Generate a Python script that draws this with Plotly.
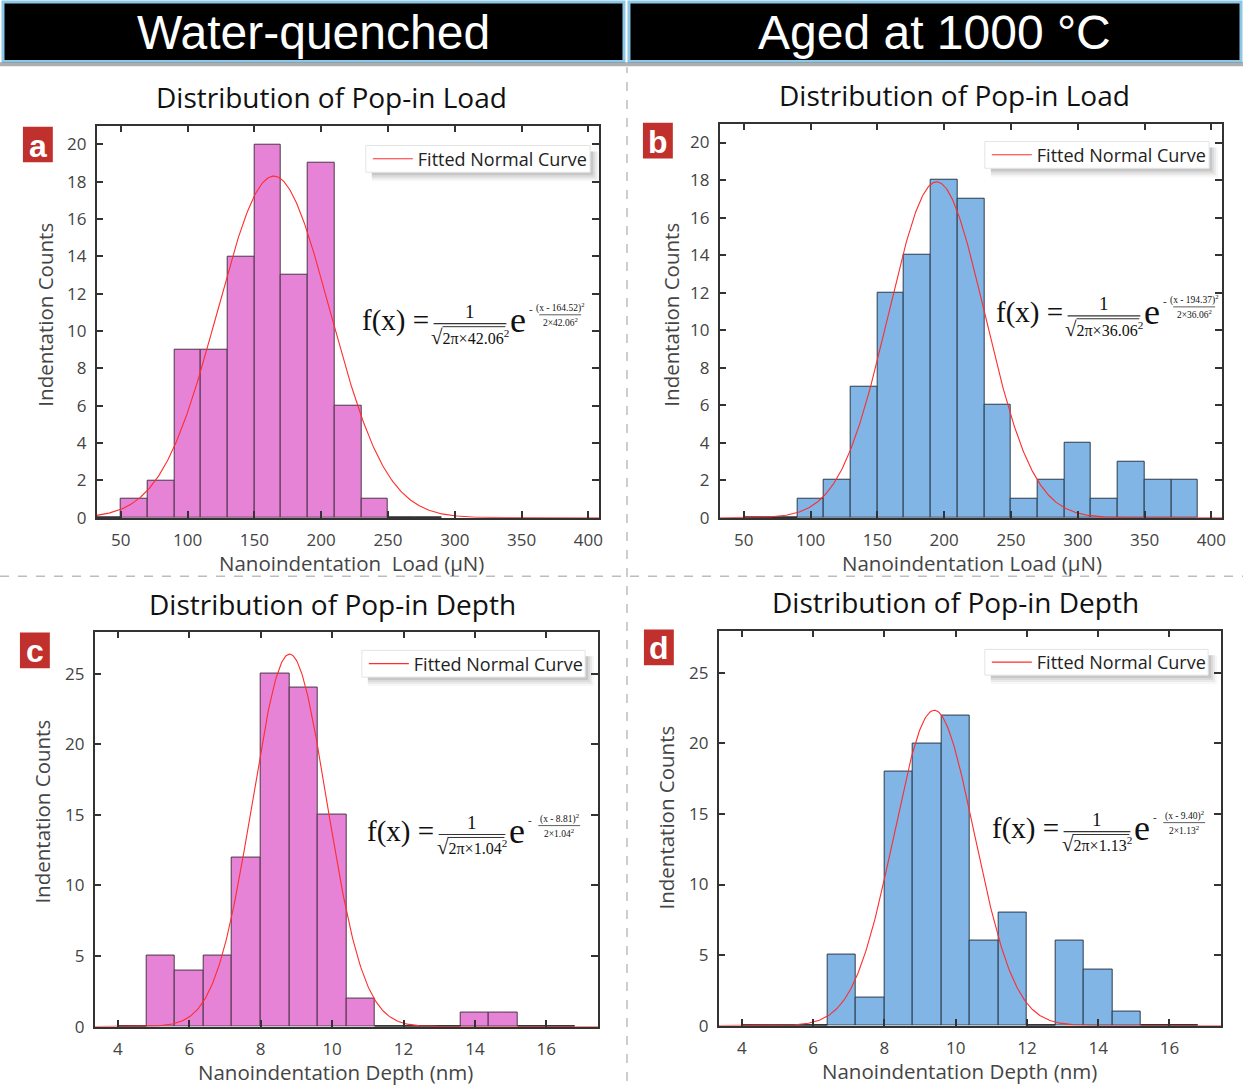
import numpy as np
import plotly.graph_objects as go

W, H = 1247, 1092

# ---------------- data ----------------
load_bin_width = 20
load_bin_start_a = 30
counts_a = [0, 1, 2, 9, 9, 14, 20, 13, 19, 6, 1, 0, 0]               # 30..290 µN
load_bin_start_b = 50
counts_b = [0, 0, 1, 2, 7, 12, 14, 18, 17, 6, 1, 2, 4, 1, 3, 2, 2]   # 50..390 µN

depth_bin_width = 0.8
depth_bin_start = 4.0
counts_c = [0, 5, 4, 5, 12, 25, 24, 15, 2, 0, 0, 0, 1, 1, 0, 0]      # 4.0..16.8 nm
counts_d = [0, 0, 0, 5, 2, 18, 20, 22, 6, 8, 0, 6, 4, 1, 0, 0]       # 4.0..16.8 nm

fit_mu = [164.52, 194.37, 8.81, 9.40]
fit_sigma = [42.06, 36.06, 1.04, 1.13]
fit_peak = [18.3, 17.9, 26.4, 22.35]   # curve heights

load_ticks = [50, 100, 150, 200, 250, 300, 350, 400]
depth_ticks = [4, 6, 8, 10, 12, 14, 16]
load_count_ticks = list(range(0, 21, 2))
depth_count_ticks = [0, 5, 10, 15, 20, 25]

headers = ["Water-quenched", "Aged at 1000 °C"]
titles = ["Distribution of Pop-in Load", "Distribution of Pop-in Load",
          "Distribution of Pop-in Depth", "Distribution of Pop-in Depth"]
xtitles = ["Nanoindentation\u00a0 Load (µN)", "Nanoindentation Load (µN)",
           "Nanoindentation Depth (nm)", "Nanoindentation Depth (nm)"]
ytitle = "Indentation Counts"
panel_letters = ["a", "b", "c", "d"]
legend_text = "Fitted Normal Curve"

PINK = "rgb(230,131,214)"
BLUE = "rgb(128,181,230)"
RED = "rgb(255,45,45)"
SANS = "Open Sans"
SERIF = "Liberation Serif"

def X(px):
    return px / W

def Y(py):
    return 1 - py / H

# panel geometry in pixels: (left, right, top, bottom)
boxes = [(97, 601, 127, 523), (722, 1226, 125, 523),
         (95, 600, 638, 1037), (721, 1225, 637, 1036)]
xranges = [[32, 408], [32, 408], [3.35, 17.45], [3.35, 17.45]]
yranges = [[0, 21], [0, 21], [0, 28], [0, 28]]

panels = [
    (counts_a, load_bin_start_a, load_bin_width, PINK, "#4a3548"),
    (counts_b, load_bin_start_b, load_bin_width, BLUE, "#2c3a4a"),
    (counts_c, depth_bin_start, depth_bin_width, PINK, "#4a3548"),
    (counts_d, depth_bin_start, depth_bin_width, BLUE, "#2c3a4a"),
]

fig = go.Figure()
shapes = []
annotations = []

for i, (counts, start, bw, fill, edge) in enumerate(panels):
    ax = "" if i == 0 else str(i + 1)
    xref, yref = "x" + ax, "y" + ax
    counts = np.array(counts, dtype=float)
    edges = np.round(start + bw * np.arange(len(counts) + 1), 4)
    centers = (edges[:-1] + edges[1:]) / 2
    fig.add_trace(go.Bar(x=centers, y=counts, width=bw,
                         marker=dict(color=fill, line=dict(color=edge, width=1)),
                         xaxis=xref, yaxis=yref, showlegend=False, hoverinfo="x+y"))
    # zero-count bins drawn as baseline segments
    zx, zy = [], []
    for k, c in enumerate(counts):
        if c == 0:
            zx += [edges[k], edges[k + 1], None]
            zy += [0, 0, None]
    fig.add_trace(go.Scatter(x=zx, y=zy, mode="lines", line=dict(color="#222", width=2.5),
                             xaxis=xref, yaxis=yref, showlegend=False, hoverinfo="skip"))
    # fitted normal curve
    xs = np.linspace(xranges[i][0], xranges[i][1], 500)
    ys = fit_peak[i] * np.exp(-(xs - fit_mu[i]) ** 2 / (2 * fit_sigma[i] ** 2))
    lg = "legend" if i == 0 else "legend" + str(i + 1)
    fig.add_trace(go.Scatter(x=xs, y=ys, mode="lines", line=dict(color=RED, width=1.1),
                             name=legend_text, legend=lg,
                             xaxis=xref, yaxis=yref, showlegend=True))

# ---------------- axes ----------------
axis_common = dict(showline=True, linecolor="#333", linewidth=1.5, mirror="ticks",
                   ticks="inside", ticklen=7, tickwidth=1.5, tickcolor="#333",
                   showgrid=False, zeroline=False,
                   tickfont=dict(family=SANS, size=17, color="#444"))
layout_axes = {}
for i, (l, r, t, b) in enumerate(boxes):
    ax = "" if i == 0 else str(i + 1)
    xt = load_ticks if i < 2 else depth_ticks
    yt = load_count_ticks if i < 2 else depth_count_ticks
    layout_axes["xaxis" + ax] = dict(axis_common, domain=[X(l), X(r)], range=xranges[i],
                                      tickvals=xt, anchor="y" + ax, ticklabelstandoff=6)
    layout_axes["yaxis" + ax] = dict(axis_common, domain=[Y(b), Y(t)], range=yranges[i],
                                      tickvals=yt, anchor="x" + ax, ticklabelstandoff=5)

# ---------------- headers & separators ----------------
for (x0, x1), txt in zip([(3, 626), (631, 1245)], headers):
    shapes.append(dict(type="rect", xref="paper", yref="paper", x0=X(x0), x1=X(x1),
                       y0=Y(62), y1=Y(2), fillcolor="black",
                       line=dict(color="rgb(140,200,230)", width=3)))
    annotations.append(dict(xref="paper", yref="paper", x=X((x0 + x1) / 2), y=Y(33),
                            text=txt, showarrow=False, xanchor="center", yanchor="middle",
                            font=dict(family="Liberation Sans", size=48, color="white")))
shapes.append(dict(type="rect", xref="paper", yref="paper", x0=0, x1=1, y0=Y(67), y1=Y(63),
                   fillcolor="rgba(120,120,120,0.6)", line=dict(width=0)))
shapes.append(dict(type="line", xref="paper", yref="paper", x0=X(629), x1=X(629), y0=0, y1=Y(68),
                   line=dict(color="#bdbdbd", width=1.5, dash="dash")))
shapes.append(dict(type="line", xref="paper", yref="paper", x0=0, x1=1, y0=Y(582), y1=Y(582),
                   line=dict(color="#bdbdbd", width=1.5, dash="dash")))

# ---------------- titles, axis titles ----------------
title_pos = [(333, 98), (958, 96), (334, 610), (959, 608)]
xt_pos = [(353, 569), (975, 569), (337, 1083), (963, 1082)]
yt_pos = [(45, 318), (673, 318), (42, 820), (668, 826)]
for i in range(4):
    annotations.append(dict(xref="paper", yref="paper", x=X(title_pos[i][0]), y=Y(title_pos[i][1]),
                            text=titles[i], showarrow=False, xanchor="center", yanchor="middle",
                            font=dict(family=SANS, size=28, color="#111")))
    annotations.append(dict(xref="paper", yref="paper", x=X(xt_pos[i][0]), y=Y(xt_pos[i][1]),
                            text=xtitles[i], showarrow=False, xanchor="center", yanchor="middle",
                            font=dict(family=SANS, size=20.5, color="#444")))
    annotations.append(dict(xref="paper", yref="paper", x=X(yt_pos[i][0]), y=Y(yt_pos[i][1]),
                            text=ytitle, showarrow=False, xanchor="center", yanchor="middle",
                            textangle=-90, font=dict(family=SANS, size=20.5, color="#444")))

# ---------------- panel letters ----------------
letter_pos = [(38, 146), (660, 142), (35, 657), (661, 654)]
for (cx, cy), lt in zip(letter_pos, panel_letters):
    shapes.append(dict(type="rect", xref="paper", yref="paper", x0=X(cx - 15), x1=X(cx + 15),
                       y0=Y(cy + 18), y1=Y(cy - 18), fillcolor="rgb(192,48,44)", line=dict(width=0)))
    annotations.append(dict(xref="paper", yref="paper", x=X(cx), y=Y(cy + 1), text="<b>" + lt + "</b>",
                            showarrow=False, xanchor="center", yanchor="middle",
                            font=dict(family="Liberation Sans", size=32, color="white")))

# ---------------- legends: white box + shadow as shapes, plotly legend on top ----------------
legend_boxes = [(367, 592, 147, 174), (988, 1213, 143, 170), (363, 587, 657, 684), (988, 1212, 656, 682)]
legends = {}
for i, (bx0, bx1, by0, by1) in enumerate(legend_boxes):
    for k, a in enumerate([0.10, 0.08, 0.06, 0.04]):
        shapes.append(dict(type="rect", xref="paper", yref="paper", layer="above",
                           x0=X(bx0 + 6), x1=X(bx1 + 3 + 2 * k), y0=Y(by1 + 3 + 2 * k), y1=Y(by0 + 6),
                           fillcolor="rgba(40,40,40,%.2f)" % a, line=dict(width=0)))
    shapes.append(dict(type="rect", xref="paper", yref="paper", layer="above",
                       x0=X(bx0), x1=X(bx1), y0=Y(by1), y1=Y(by0),
                       fillcolor="white", line=dict(color="#e4e4e4", width=1)))
    key = "legend" if i == 0 else "legend" + str(i + 1)
    legends[key] = dict(x=X(bx0 + 2), y=Y((by0 + by1) / 2 - 18.5), xanchor="left", yanchor="top",
                        xref="paper", yref="paper", bgcolor="rgba(0,0,0,0)", borderwidth=0,
                        font=dict(family=SANS, size=18, color="#222"), itemwidth=40,
                        tracegroupgap=0)

# ---------------- formula annotations ----------------
formula_pos = [(361, 324), (997, 316), (366, 840), (993, 837)]

def add_formula(x0, yc, mu, sigma):
    def txt(dx, dy, s, size, anchor="center", fam=SERIF):
        annotations.append(dict(xref="paper", yref="paper", x=X(x0 + dx), y=Y(yc + dy), text=s,
                                showarrow=False, xanchor=anchor, yanchor="middle",
                                font=dict(family=fam, size=size, color="#111")))

    def line(dx0, dx1, dy, w=1.2):
        shapes.append(dict(type="line", xref="paper", yref="paper", x0=X(x0 + dx0), x1=X(x0 + dx1),
                           y0=Y(yc + dy), y1=Y(yc + dy), line=dict(color="#333", width=w)))

    s = "%.2f" % sigma
    w = (len(s) - 4) * 6          # wider fraction for longer sigma text
    b0, b1 = 74, 141 + w
    txt(0, 0, "f(x) =", 29, "left")
    txt((b0 + b1) / 2, -9, "1", 19)
    line(b0, b1, 3)
    txt((b0 + b1) / 2, 16, "<span style='font-size:21px'>√</span>2π×%s<sup>2</sup>" % s, 16)
    line(b0 + 9, b1 - 1, 6, 1)
    txt(b1 + 2, -1, "e", 36, "left")
    txt(b1 + 25, -12, "-", 11)
    txt(b1 + 54, -13, "(x - %.2f)<sup>2</sup>" % mu, 9.5)
    line(b1 + 33, b1 + 75, -6, 0.8)
    txt(b1 + 54, 1, "2×%s<sup>2</sup>" % s, 9.5)

for (fx, fy), mu, sg in zip(formula_pos, fit_mu, fit_sigma):
    add_formula(fx, fy, mu, sg)

fig.update_layout(width=W, height=H, margin=dict(l=0, r=0, t=0, b=0),
                  paper_bgcolor="white", plot_bgcolor="white",
                  shapes=shapes, annotations=annotations, bargap=0, **layout_axes, **legends)

fig.write_html("out.html")
